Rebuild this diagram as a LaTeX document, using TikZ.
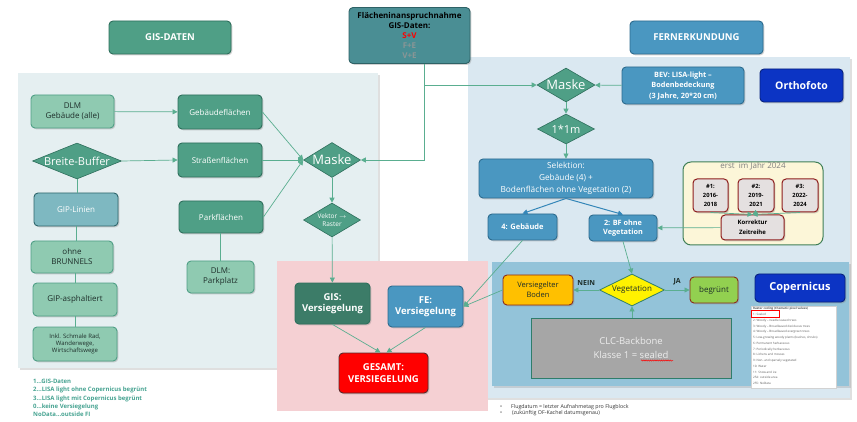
\documentclass[tikz,border=0pt]{standalone}
\usepackage{fontspec}
\setmainfont{Open Sans}
\usetikzlibrary{shapes.geometric,arrows.meta,shadows,decorations.pathmorphing}

\newcommand\setfs[2]{\fontsize{#1}{#2}\selectfont}

\definecolor{gdark}{HTML}{4F9F86}
\definecolor{gdarkline}{HTML}{2E6F5C}
\definecolor{glight}{HTML}{8FCAB1}
\definecolor{gipfill}{HTML}{7EB8C1}
\definecolor{gipline}{HTML}{2F666C}
\definecolor{gisvfill}{HTML}{3C7C68}
\definecolor{fblue}{HTML}{4A97C1}
\definecolor{fblueline}{HTML}{2D6B8E}
\definecolor{titlefill}{HTML}{4A8E94}
\definecolor{titleline}{HTML}{2E6266}
\definecolor{navy}{HTML}{0C34C4}
\definecolor{navyline}{HTML}{08227E}
\definecolor{conn}{HTML}{5AAE90}
\definecolor{selconn}{HTML}{3486B8}
\definecolor{leftbg}{HTML}{E5EFF1}
\definecolor{rightbg}{HTML}{DAE8F1}
\definecolor{copbg}{HTML}{93C3D9}
\definecolor{pinkbg}{HTML}{F5D0D3}
\definecolor{txtdark}{HTML}{1E2E2A}
\definecolor{legtxt}{HTML}{46A391}
\definecolor{yearfill}{HTML}{FCF6D8}
\definecolor{yearline}{HTML}{3F7F57}
\definecolor{zfill}{HTML}{E4E0E0}
\definecolor{zline}{HTML}{8E1C1C}
\definecolor{orangefill}{HTML}{FFC000}
\definecolor{greenfill}{HTML}{92D050}
\definecolor{boxred}{HTML}{8B2B1B}
\definecolor{clcfill}{HTML}{A6A6A6}
\definecolor{clcline}{HTML}{2F7D6B}
\definecolor{gesamtline}{HTML}{5A2A2A}
\definecolor{softgray}{HTML}{8A9696}
\definecolor{legendgray}{HTML}{5A5A5A}

\begin{document}
\begin{tikzpicture}[x=1pt,y=-1pt,
  font=\setfs{8}{10},
  shadowed/.style={drop shadow={shadow xshift=1.3pt,shadow yshift=-1.3pt,opacity=.35}},
  panelshadow/.style={drop shadow={shadow xshift=2pt,shadow yshift=-2pt,opacity=.25}},
  box/.style={rectangle, rounded corners=4pt, line width=0.9pt, align=center, inner sep=1pt, shadowed},
  darkg/.style={box, fill=gdark, draw=gdarkline, text=white},
  lightg/.style={box, fill=glight, draw=gdark, text=txtdark},
  bluebox/.style={box, fill=fblue, draw=fblueline, text=white, font=\bfseries\setfs{7.5}{9.5}},
  navybox/.style={box, fill=navy, draw=navyline, text=white, font=\bfseries\setfs{10.5}{12}},
  dia/.style={diamond, inner sep=0pt, fill=gdark, draw=gdarkline, line width=0.6pt},
  dtext/.style={text=white, inner sep=0pt},
  zbox/.style={box, fill=zfill, draw=zline, line width=1pt, text=black, font=\bfseries\setfs{5.8}{9.5}},
  link/.style={draw=conn, line width=0.7pt},
  arr/.style={link, -{Triangle[length=5pt,width=5pt]}},
  selarr/.style={draw=selconn, line width=1pt, -{Triangle[length=5pt,width=5pt]}},
]
\useasboundingbox (0,0) rectangle (857,422);
\fill[white] (0,0) rectangle (857,422);

% ---------- background panels ----------
\fill[rightbg, panelshadow] (468,57) rectangle (850,398);
\fill[leftbg, panelshadow] (18,73) rectangle (378,368);
\fill[copbg, panelshadow] (492,262) rectangle (849,386);
\fill[pinkbg] (277,261) rectangle (488,411);

% ---------- headers ----------
\node[darkg, minimum width=122pt, minimum height=33pt, font=\bfseries\setfs{9.5}{11}] (gisdaten) at (170,37.5) {GIS-DATEN};
\node[bluebox, minimum width=133pt, minimum height=33pt, font=\bfseries\setfs{9.5}{11}] (fern) at (696.5,37.5) {FERNERKUNDUNG};
\node[box, fill=titlefill, draw=titleline, minimum width=121pt, minimum height=56pt,
      font=\bfseries\setfs{8}{10.2}, text=black] (title) at (409.5,35.5)
  {Flächeninanspruchnahme\\GIS-Daten:\\\textcolor{red}{S+V}\\\textcolor{softgray}{F+E}\\\textcolor{softgray}{V+E}};

% ---------- GIS side ----------
\node[lightg, minimum width=83pt, minimum height=33pt] (dlm) at (72.5,111.5) {DLM\\Gebäude (alle)};
\node[darkg, minimum width=84pt, minimum height=34pt] (gb) at (220,112) {Gebäudeflächen};
\node[dia, minimum width=89pt, minimum height=36pt] (buffer) at (77,161) {};
\node[dtext, font=\setfs{11}{12}] at (buffer.center) {Breite-Buffer};
\node[darkg, minimum width=84pt, minimum height=34pt] (str) at (220,160) {Straßenflächen};
\node[box, fill=gipfill, draw=gipline, text=white, minimum width=84pt, minimum height=33pt] (gip) at (76,209.5) {GIP-Linien};
\node[lightg, minimum width=82pt, minimum height=32pt] (ohne) at (72,257) {ohne\\BRUNNELS};
\node[lightg, minimum width=84pt, minimum height=33pt] (asph) at (75,299.5) {GIP-asphaltiert};
\node[lightg, minimum width=84pt, minimum height=34pt, font=\setfs{6}{7}] (inkl) at (75,344) {Inkl. Schmale Rad,\\Wanderwege,\\Wirtschaftswege};
\node[darkg, minimum width=84pt, minimum height=32pt] (park) at (221,217) {Parkflächen};
\node[lightg, minimum width=67pt, minimum height=32pt] (dlmpark) at (220.5,277) {DLM:\\Parkplatz};
\node[dia, minimum width=57pt, minimum height=35pt] (maskeL) at (332,160) {};
\node[dtext, font=\setfs{13}{14}] at (maskeL.center) {Maske};
\node[dia, minimum width=57pt, minimum height=34pt] (vektor) at (332,220) {};
\node[dtext, font=\setfs{6.5}{8.5}, align=center] at (vektor.center) {Vektor \(\rightarrow\)\\Raster};

% ---------- combined result ----------
\node[box, fill=gisvfill, draw=gdarkline, text=white, minimum width=75pt, minimum height=41pt,
      font=\bfseries\setfs{9.5}{11.5}] (gisv) at (332.5,303.5) {GIS:\\Versiegelung};
\node[bluebox, minimum width=75pt, minimum height=41pt, font=\bfseries\setfs{9.5}{11.5}] (fev) at (425.5,306.5) {FE:\\Versiegelung};
\node[box, fill=red, draw=gesamtline, text=white, minimum width=89pt, minimum height=40pt,
      font=\bfseries\setfs{9.5}{11.5}] (gesamt) at (383.5,373) {GESAMT:\\VERSIEGELUNG};

% ---------- remote sensing side ----------
\node[dia, minimum width=58pt, minimum height=34pt] (maskeR) at (566,85) {};
\node[dtext, font=\setfs{13}{14}] at (maskeR.center) {Maske};
\node[bluebox, minimum width=122pt, minimum height=37pt, font=\bfseries\setfs{7.3}{10.5}] (bev) at (683,85.5)
  {BEV: LISA-light –\\Bodenbedeckung\\(3 Jahre, 20*20 cm)};
\node[navybox, minimum width=83pt, minimum height=33pt] (ortho) at (801.5,85.5) {Orthofoto};
\node[dia, minimum width=57pt, minimum height=30pt] (onem) at (566,129) {};
\node[dtext, font=\setfs{11}{12}] at (onem.center) {1*1m};
\node[bluebox, minimum width=174pt, minimum height=39pt, font=\setfs{8.3}{11.8}] (sel) at (566,178.5)
  {Selektion:\\Gebäude (4) +\\Bodenflächen ohne Vegetation (2)};
\node[bluebox, minimum width=69pt, minimum height=26pt] (geb4) at (522.5,227) {4: Gebäude};
\node[bluebox, minimum width=68pt, minimum height=26pt, font=\bfseries\setfs{7.3}{9}] (bf2) at (623,228) {2: BF ohne\\Vegetation};

% time series correction
\node[rectangle, rounded corners=8pt, fill=yearfill, draw=yearline, line width=1pt,
      minimum width=140pt, minimum height=83pt] (years) at (753,203.5) {};
\node[anchor=north, text=gray, font=\setfs{8}{9}, inner sep=0pt] (yearstitle) at ([yshift=-1pt]years.north) {erst \ im Jahr 2024};
\node[zbox, minimum width=35pt, minimum height=33pt, font=\bfseries\setfs{5.8}{9.3}] (z1) at (710.5,195.5) {\#1:\\2016-\\2018};
\node[zbox, minimum width=36pt, minimum height=33pt, font=\bfseries\setfs{5.8}{9.3}] (z2) at (756,195.5) {\#2:\\2019-\\2021};
\node[zbox, minimum width=36pt, minimum height=33pt, font=\bfseries\setfs{5.8}{9.3}] (z3) at (800,195.5) {\#3:\\2022-\\2024};
\node[zbox, minimum width=63pt, minimum height=25pt, font=\bfseries\setfs{6}{9.5}] (korr) at (752.5,227.5) {Korrektur\\Zeitreihe};

% Copernicus vegetation check
\node[diamond, inner sep=0pt, fill=yellow, draw=clcline, line width=0.8pt, minimum width=65pt, minimum height=32pt] (veg) at (632,290) {};
\node[inner sep=0pt, text=txtdark, font=\setfs{8}{9}] at (veg.center) {Vegetation};
\node[box, fill=orangefill, draw=boxred, text=txtdark, minimum width=70pt, minimum height=30pt, font=\setfs{7.5}{10}] (vers) at (538,290) {Versiegelter\\Boden};
\node[box, fill=greenfill, draw=boxred, text=txtdark, minimum width=48pt, minimum height=26pt, font=\setfs{8}{9}] (begr) at (714,290) {begrünt};
\node[rectangle, fill=clcfill, draw=clcline, line width=1pt, minimum width=200pt, minimum height=60pt,
      text=white!93!black, align=center, font=\setfs{9.5}{13.5}] (clc) at (631,348) {CLC-Backbone\\Klasse 1 = sealed};
\draw[red, line width=0.5pt, decorate, decoration={snake, amplitude=0.6pt, segment length=2.2pt}] (641,360.5) -- (673,360.5);
\node[navybox, minimum width=90pt, minimum height=28pt, font=\bfseries\setfs{11}{12}] (cop) at (800,288) {Copernicus};

% CLC legend sheet
\node[rectangle, fill=white, draw=gray!35, line width=0.3pt, minimum width=85pt, minimum height=82pt] (legend) at (793.5,347) {};
\node[anchor=north west, inner sep=0pt, align=left, text=legendgray, font=\setfs{3}{5.75}] (legendtext) at ([xshift=2pt,yshift=-1.5pt]legend.north west)
  {\textbf{Raster coding (thematic pixel values)}\\
   1: Sealed\\
   2: Woody – needle leaved trees\\
   3: Woody – Broadleaved deciduous trees\\
   4: Woody – Broadleaved evergreen trees\\
   5: Low-growing woody plants (bushes, shrubs)\\
   6: Permanent herbaceous\\
   7: Periodically herbaceous\\
   8: Lichens and mosses\\
   9: Non- and sparsely vegetated\\
   10: Water\\
   11: Snow and ice\\
   254: outside area\\
   255: NoData};
\draw[red, line width=0.8pt] (751.5,310.5) rectangle (779,317.5);

% ---------- connectors ----------
\draw[arr] (dlm) -- (gb);
\draw[arr] (buffer.east) -- (str.west);
\draw[link] (buffer.south) -- (buffer.south |- gip.north);
\draw[link] (gip.south) -- (gip.south |- ohne.north);
\draw[link] (ohne.south -| asph) -- (asph.north);
\draw[link] (asph.south) -- (inkl.north);
\draw[arr] (gb.east) -- (maskeL.west);
\draw[arr] (str.east) -- (maskeL.west);
\draw[arr] (park.east) -- (maskeL.west);
\draw[link] (park.south -| dlmpark) -- (dlmpark.north);
\draw[arr] (maskeL) -- (vektor);
\draw[arr] (vektor) -- (gisv);

\coordinate (split) at (424,85);
\draw[link] (title.south -| split) -- (split);
\draw[arr] (split) -- (maskeR.west);
\draw[arr] (split) |- (maskeL.east);

\draw[arr] (bev) -- (maskeR);
\draw[arr] (maskeR) -- (onem);
\draw[arr] (onem) -- (sel);
\draw[selarr] (sel.south) -- (geb4.north);
\draw[selarr] (sel.south) -- (bf2.north);
\draw[arr] (z1.south) -- (korr.north);
\draw[arr] (z2.south) -- (korr.north);
\draw[arr] (z3.south) -- (korr.north);
\draw[arr] (korr) -- (bf2);
\draw[arr] (bf2.south) -- (veg.north);
\draw[arr] (geb4.south) -- (fev.east);
\draw[arr] (vers.west) -- (fev.east);
\draw[arr] (veg) -- (vers) node[midway, above=1pt, text=txtdark, font=\bfseries\setfs{7}{8}] {NEIN};
\draw[arr] (veg) -- (begr) node[midway, above=1pt, text=txtdark, font=\bfseries\setfs{7}{8}] {JA};
\draw[arr] (clc.north -| veg) -- (veg.south);
\draw[arr] (gisv.south) -- ([xshift=-3pt]gesamt.north);
\draw[arr] (fev.south) -- ([xshift=3pt]gesamt.north);

% ---------- notes ----------
\node[anchor=north west, inner sep=0pt, align=left, text=legtxt, font=\bfseries\setfs{6}{8.3}] (codes) at (33,379)
  {1...GIS-Daten\\2...LISA light ohne Copernicus begrünt\\3...LISA light mit Copernicus begrünt\\0...keine Versiegelung\\NoData...outside FI};
\node[anchor=north west, inner sep=0pt, align=left, text=black!80, font=\setfs{5.3}{6.5}] (flight) at (500,404)
  {\textbullet\hspace{9pt}Flugdatum = letzter Aufnahmetag pro Flugblock\\\textbullet\hspace{9pt}\,(zukünftig OF-Kachel datumsgenau)};
\end{tikzpicture}
\end{document}
